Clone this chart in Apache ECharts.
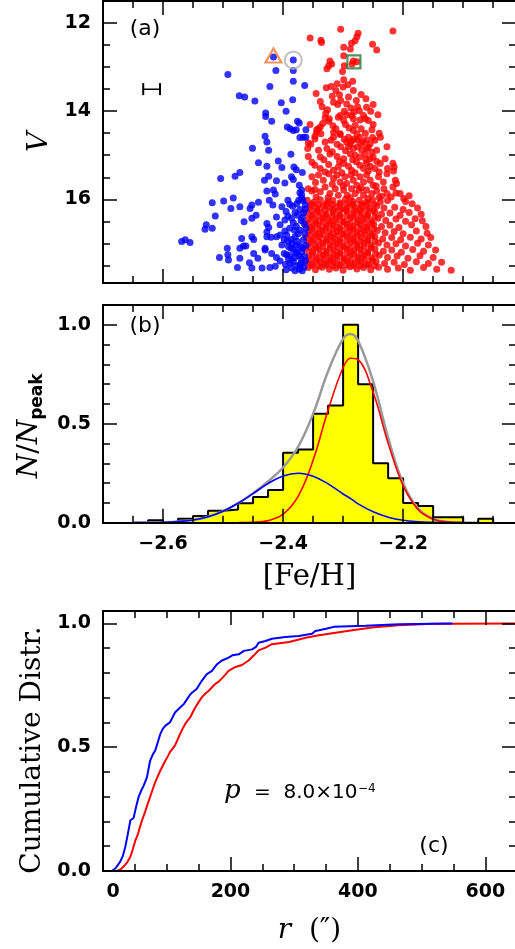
<!DOCTYPE html>
<html lang="en">
<head>
<meta charset="UTF-8">
<title>Fe/H distribution</title>
<style>html,body{margin:0;padding:0;background:#fff}#main{width:515px;height:949px}</style>
</head>
<body>
<div id="main"></div>
<script src="https://cdn.jsdelivr.net/npm/echarts@6/dist/echarts.min.js"></script>
<script>
// (a) metal-poor (blue) and metal-rich (red) stars: [Fe/H], V
var bluePts = [
  [-2.416,12.77],[-2.383,12.84],[-2.412,13.08],[-2.383,13.08],[-2.492,13.17],[-2.383,13.32],[-2.422,13.44],[-2.364,13.42],
  [-2.473,13.65],[-2.464,13.68],[-2.447,13.77],[-2.384,13.74],[-2.403,13.81],[-2.395,14.00],[-2.429,14.04],[-2.429,14.12],
  [-2.419,14.23],[-2.376,14.23],[-2.373,14.27],[-2.393,14.36],[-2.388,14.40],[-2.383,14.44],[-2.378,14.42],[-2.362,14.42],
  [-2.430,14.57],[-2.427,14.70],[-2.372,14.60],[-2.366,14.59],[-2.362,14.59],[-2.451,14.84],[-2.424,14.89],[-2.387,14.98],
  [-2.441,15.17],[-2.408,15.13],[-2.427,15.25],[-2.402,15.28],[-2.382,15.27],[-2.378,15.33],[-2.368,15.39],[-2.472,15.39],
  [-2.480,15.48],[-2.504,15.53],[-2.431,15.57],[-2.424,15.48],[-2.411,15.58],[-2.397,15.63],[-2.386,15.49],[-2.383,15.55],
  [-2.373,15.68],[-2.369,15.79],[-2.427,15.81],[-2.416,15.79],[-2.413,15.88],[-2.372,15.85],[-2.369,15.90],
  [-2.518,16.08],[-2.499,16.04],[-2.483,15.97],[-2.487,16.21],[-2.472,16.17],[-2.455,16.21],[-2.452,16.13],[-2.441,16.07],
  [-2.423,16.02],[-2.417,16.13],[-2.402,16.17],[-2.389,16.11],[-2.384,16.16],[-2.377,16.10],[-2.372,16.23],[-2.367,16.03],
  [-2.363,16.13],[-2.369,15.98],[-2.366,16.31],[-2.380,16.30],[-2.395,16.28],
  [-2.513,16.38],[-2.528,16.58],[-2.530,16.68],[-2.518,16.66],[-2.465,16.51],[-2.452,16.43],[-2.445,16.36],[-2.427,16.55],
  [-2.424,16.64],[-2.411,16.40],[-2.397,16.47],[-2.386,16.43],[-2.383,16.53],[-2.378,16.61],[-2.372,16.70],[-2.365,16.55],
  [-2.368,16.42],[-2.392,16.38],[-2.405,16.58],[-2.389,16.66],
  [-2.569,16.96],[-2.563,16.92],[-2.555,16.98],[-2.469,16.89],[-2.466,17.06],[-2.452,16.85],[-2.449,16.91],[-2.427,16.85],
  [-2.430,17.11],[-2.420,16.86],[-2.427,16.74],[-2.405,16.81],[-2.398,16.91],[-2.394,16.81],[-2.386,16.91],[-2.380,16.85],
  [-2.376,16.96],[-2.372,17.06],[-2.366,16.92],[-2.364,16.78],[-2.411,16.85],[-2.402,17.04],[-2.387,17.11],[-2.377,17.19],
  [-2.369,17.19],
  [-2.493,17.11],[-2.492,17.26],[-2.491,17.38],[-2.506,17.32],[-2.472,17.11],[-2.462,17.06],[-2.449,17.23],[-2.430,17.15],
  [-2.419,17.23],[-2.398,17.23],[-2.391,17.07],[-2.388,17.28],[-2.383,17.14],[-2.374,17.28],[-2.364,17.30],[-2.476,17.55],
  [-2.472,17.34],[-2.456,17.44],[-2.452,17.56],[-2.442,17.34],[-2.435,17.56],[-2.422,17.55],[-2.411,17.32],[-2.413,17.52],
  [-2.394,17.26],[-2.391,17.36],[-2.383,17.41],[-2.377,17.51],[-2.373,17.59],[-2.369,17.45],[-2.365,17.54],[-2.380,17.62],
  [-2.368,17.62],[-2.386,17.56],[-2.396,17.48],[-2.405,17.40],[-2.363,17.40],[-2.370,17.35],[-2.378,17.22],[-2.385,17.00],
  [-2.362,17.05],[-2.362,16.65],
  [-2.376,16.36],[-2.370,16.48],[-2.381,16.70],[-2.375,16.78],[-2.367,17.10],[-2.381,17.32],[-2.372,17.48],[-2.388,17.45],
  [-2.392,16.95],[-2.397,16.72],[-2.374,16.02],[-2.392,16.02],[-2.363,16.22],[-2.378,17.04],[-2.395,17.60]
];

var redPts = [
  [-2.355,12.34],[-2.337,12.39],[-2.336,12.44],[-2.304,12.14],[-2.275,12.23],[-2.277,12.31],[-2.280,12.40],[-2.286,12.46],
  [-2.299,12.55],[-2.288,12.59],[-2.251,12.48],[-2.244,12.61],[-2.217,12.18],[-2.299,12.74],[-2.322,12.86],[-2.324,12.97],
  [-2.327,13.04],[-2.319,12.93],[-2.298,12.97],[-2.283,12.86],[-2.277,12.88],[-2.285,12.93],[-2.301,13.10],[-2.299,13.29],
  [-2.284,13.32],[-2.328,13.47],[-2.320,13.44],[-2.312,13.53],[-2.306,13.63],[-2.283,13.53],[-2.291,13.68],[-2.338,13.78],
  [-2.316,13.80],[-2.309,13.85],[-2.304,13.76],[-2.294,13.84],[-2.287,13.93],[-2.278,13.76],[-2.276,13.90],[-2.273,13.99],
  [-2.261,13.91],[-2.326,13.97],[-2.329,14.05],[-2.305,14.10],[-2.294,14.08],[-2.286,14.10],[-2.266,14.10],[-2.242,14.08],
  [-2.323,14.17],[-2.324,14.23],[-2.308,14.14],[-2.299,14.21],[-2.283,14.17],[-2.280,14.32],[-2.272,14.20],[-2.263,14.17],
  [-2.258,14.21],[-2.341,14.40],[-2.344,14.48],[-2.347,14.57],[-2.316,14.48],[-2.305,14.53],[-2.283,14.44],[-2.277,14.51],
  [-2.263,14.50],[-2.252,14.42],[-2.310,13.38],[-2.292,13.40],[-2.270,13.62],[-2.318,13.66],[-2.335,13.90],[-2.298,14.00],
  [-2.282,14.02],[-2.254,14.00],[-2.317,14.33],[-2.296,14.30],[-2.334,14.28],[-2.250,14.30],
  [-2.345,13.60],[-2.300,13.45],[-2.262,13.72],[-2.250,13.85],[-2.330,14.15],[-2.312,14.40],[-2.290,14.38],[-2.270,14.40],
  [-2.240,14.50],[-2.355,14.30],
  [-2.358,14.72],[-2.359,14.85],[-2.354,14.75],[-2.347,14.63],[-2.344,14.42],[-2.338,14.36],[-2.337,14.51],[-2.330,14.70],
  [-2.327,14.85],[-2.316,14.59],[-2.310,14.75],[-2.305,14.51],[-2.304,14.81],[-2.294,14.70],[-2.291,14.59],[-2.288,14.74],
  [-2.282,14.63],[-2.277,14.65],[-2.272,14.60],[-2.266,14.70],[-2.261,14.65],[-2.255,14.74],[-2.251,14.60],[-2.247,14.66],
  [-2.238,14.59],[-2.291,14.81],[-2.283,14.85],[-2.276,14.81],[-2.269,14.89],[-2.261,14.85],[-2.252,14.93],[-2.244,14.89],
  [-2.227,14.81],[-2.288,14.97],[-2.280,15.00],[-2.272,15.04],[-2.263,14.98],[-2.255,15.08],[-2.250,15.04],[-2.358,15.03],
  [-2.341,14.89],[-2.338,15.04],[-2.322,14.97],[-2.310,15.03],[-2.299,15.08],[-2.347,15.23],[-2.338,15.30],[-2.324,15.21],
  [-2.316,15.34],[-2.308,15.27],[-2.299,15.19],[-2.291,15.25],[-2.286,15.34],[-2.278,15.15],[-2.272,15.23],[-2.266,15.30],
  [-2.261,15.18],[-2.255,15.25],[-2.247,15.30],[-2.238,15.19],[-2.217,15.18],[-2.215,15.27],[-2.216,15.36],[-2.352,15.49],
  [-2.341,15.45],[-2.333,15.57],[-2.324,15.42],[-2.316,15.53],[-2.310,15.45],[-2.305,15.61],[-2.297,15.49],[-2.294,15.64],
  [-2.287,15.45],[-2.283,15.57],[-2.277,15.68],[-2.272,15.49],[-2.266,15.61],[-2.261,15.45],[-2.255,15.57],[-2.250,15.68],
  [-2.241,15.49],[-2.233,15.61],[-2.227,15.42],[-2.213,15.57],[-2.211,15.64],[-2.217,15.72],[-2.358,15.76],[-2.352,15.81],
  [-2.347,15.78],[-2.338,15.83],[-2.330,15.72],[-2.322,15.87],[-2.313,15.76],[-2.308,15.91],[-2.299,15.79],[-2.293,15.91],
  [-2.286,15.76],[-2.280,15.87],[-2.273,15.79],[-2.266,15.91],[-2.261,15.79],[-2.252,15.87],[-2.244,15.81],[-2.236,15.93],
  [-2.227,15.87],[-2.205,15.87],[-2.199,15.98],
  [-2.320,14.66],[-2.298,14.64],[-2.286,14.68],[-2.270,14.74],[-2.258,14.82],[-2.296,14.90],[-2.318,14.92],[-2.332,15.10],
  [-2.306,15.14],[-2.284,15.10],[-2.262,15.10],[-2.244,15.14],[-2.230,15.08],[-2.352,15.16],[-2.330,15.38],[-2.302,15.40],
  [-2.280,15.40],[-2.258,15.36],[-2.240,15.38],[-2.226,15.30],[-2.346,15.62],[-2.318,15.66],[-2.300,15.70],[-2.270,15.74],
  [-2.245,15.70],[-2.232,15.76],[-2.220,15.95],[-2.345,15.95],[-2.325,15.96],[-2.288,15.97],[-2.258,15.98],[-2.240,15.96],
  [-2.212,15.86],[-2.190,15.92],
  [-2.360,16.02],[-2.349,16.07],[-2.338,16.01],[-2.326,16.06],[-2.317,16.03],[-2.305,16.08],[-2.296,16.00],[-2.284,16.05],
  [-2.273,16.02],[-2.262,16.07],[-2.251,16.01],[-2.238,16.06],[-2.226,16.03],[-2.196,16.05],[-2.185,16.10],
  [-2.355,16.16],[-2.344,16.21],[-2.333,16.15],[-2.322,16.20],[-2.311,16.17],[-2.300,16.22],[-2.289,16.14],[-2.279,16.19],
  [-2.268,16.16],[-2.256,16.21],[-2.244,16.15],[-2.232,16.20],[-2.214,16.18],[-2.200,16.23],[-2.176,16.20],
  [-2.361,16.30],[-2.350,16.35],[-2.339,16.29],[-2.328,16.34],[-2.316,16.31],[-2.305,16.36],[-2.293,16.28],[-2.282,16.33],
  [-2.271,16.30],[-2.259,16.35],[-2.247,16.29],[-2.236,16.34],[-2.222,16.31],[-2.205,16.36],[-2.190,16.30],[-2.170,16.34],
  [-2.358,16.44],[-2.346,16.49],[-2.334,16.43],[-2.323,16.48],[-2.312,16.45],[-2.300,16.50],[-2.288,16.42],[-2.276,16.47],
  [-2.266,16.44],[-2.254,16.49],[-2.242,16.43],[-2.229,16.48],[-2.212,16.45],[-2.196,16.50],[-2.180,16.44],[-2.168,16.49],
  [-2.362,16.58],[-2.351,16.63],[-2.340,16.57],[-2.328,16.62],[-2.317,16.59],[-2.306,16.64],[-2.294,16.56],[-2.283,16.61],
  [-2.271,16.58],[-2.260,16.63],[-2.249,16.57],[-2.236,16.62],[-2.222,16.59],[-2.207,16.64],[-2.186,16.58],[-2.162,16.62],
  [-2.357,16.72],[-2.346,16.77],[-2.335,16.71],[-2.323,16.76],[-2.311,16.73],[-2.300,16.78],[-2.289,16.70],[-2.277,16.75],
  [-2.266,16.72],[-2.255,16.77],[-2.243,16.71],[-2.230,16.76],[-2.215,16.73],[-2.200,16.78],[-2.178,16.72],[-2.160,16.77],
  [-2.361,16.86],[-2.350,16.91],[-2.339,16.85],[-2.327,16.90],[-2.316,16.87],[-2.305,16.92],[-2.293,16.84],[-2.282,16.89],
  [-2.270,16.86],[-2.259,16.91],[-2.247,16.85],[-2.234,16.90],[-2.219,16.87],[-2.204,16.92],[-2.188,16.86],[-2.170,16.90],
  [-2.154,16.87],
  [-2.358,17.00],[-2.346,17.05],[-2.334,16.99],[-2.322,17.04],[-2.311,17.01],[-2.300,17.06],[-2.288,16.98],[-2.277,17.03],
  [-2.265,17.00],[-2.254,17.05],[-2.241,16.99],[-2.227,17.04],[-2.212,17.01],[-2.196,17.06],[-2.176,17.00],[-2.158,17.04],
  [-2.362,17.14],[-2.351,17.19],[-2.340,17.13],[-2.328,17.18],[-2.316,17.15],[-2.305,17.20],[-2.294,17.12],[-2.282,17.17],
  [-2.271,17.14],[-2.259,17.19],[-2.247,17.13],[-2.233,17.18],[-2.219,17.15],[-2.203,17.20],[-2.184,17.14],[-2.166,17.18],
  [-2.146,17.15],
  [-2.357,17.28],[-2.345,17.33],[-2.333,17.27],[-2.322,17.32],[-2.311,17.29],[-2.299,17.34],[-2.288,17.26],[-2.276,17.31],
  [-2.265,17.28],[-2.253,17.33],[-2.240,17.27],[-2.226,17.32],[-2.210,17.29],[-2.192,17.34],[-2.172,17.28],[-2.150,17.32],
  [-2.361,17.42],[-2.350,17.47],[-2.338,17.41],[-2.327,17.46],[-2.316,17.43],[-2.304,17.48],[-2.293,17.40],[-2.281,17.45],
  [-2.270,17.42],[-2.258,17.47],[-2.245,17.41],[-2.231,17.46],[-2.215,17.43],[-2.198,17.48],[-2.178,17.42],[-2.158,17.46],
  [-2.136,17.43],
  [-2.358,17.55],[-2.346,17.60],[-2.335,17.54],[-2.323,17.59],[-2.312,17.56],[-2.300,17.61],[-2.289,17.53],[-2.277,17.58],
  [-2.266,17.55],[-2.254,17.60],[-2.241,17.54],[-2.226,17.59],[-2.208,17.56],[-2.188,17.61],[-2.166,17.55],[-2.144,17.59],
  [-2.120,17.61],
  // dense core, in between the rows above
  [-2.352,16.11],[-2.341,16.12],[-2.328,16.10],[-2.318,16.12],[-2.305,16.11],[-2.294,16.10],[-2.283,16.12],[-2.270,16.11],[-2.259,16.10],[-2.248,16.12],
  [-2.354,16.25],[-2.343,16.26],[-2.330,16.24],[-2.317,16.26],[-2.306,16.25],[-2.295,16.24],[-2.282,16.26],[-2.272,16.25],[-2.261,16.24],[-2.250,16.26],
  [-2.352,16.39],[-2.340,16.40],[-2.329,16.38],[-2.318,16.40],[-2.306,16.39],[-2.294,16.38],[-2.283,16.40],[-2.271,16.39],[-2.260,16.38],[-2.247,16.40],
  [-2.356,16.53],[-2.345,16.54],[-2.333,16.52],[-2.322,16.54],[-2.311,16.53],[-2.299,16.52],[-2.288,16.54],[-2.276,16.53],[-2.264,16.52],[-2.252,16.54],
  [-2.352,16.67],[-2.340,16.68],[-2.329,16.66],[-2.317,16.68],[-2.305,16.67],[-2.294,16.66],[-2.283,16.68],[-2.271,16.67],[-2.260,16.66],[-2.249,16.68],
  [-2.355,16.81],[-2.344,16.82],[-2.333,16.80],[-2.321,16.82],[-2.310,16.81],[-2.299,16.80],[-2.287,16.82],[-2.276,16.81],[-2.264,16.80],[-2.252,16.82],
  [-2.352,16.95],[-2.340,16.96],[-2.328,16.94],[-2.317,16.96],[-2.306,16.95],[-2.294,16.94],[-2.282,16.96],[-2.271,16.95],[-2.259,16.94],[-2.247,16.96],
  [-2.356,17.09],[-2.345,17.10],[-2.334,17.08],[-2.322,17.10],[-2.310,17.09],[-2.299,17.08],[-2.288,17.10],[-2.276,17.09],[-2.265,17.08],[-2.253,17.10],
  [-2.351,17.23],[-2.339,17.24],[-2.328,17.22],[-2.316,17.24],[-2.305,17.23],[-2.293,17.22],[-2.282,17.24],[-2.270,17.23],[-2.259,17.22],[-2.246,17.24],
  [-2.355,17.37],[-2.344,17.38],[-2.332,17.36],[-2.321,17.38],[-2.310,17.37],[-2.298,17.36],[-2.287,17.38],[-2.275,17.37],[-2.264,17.36],[-2.251,17.38],
  [-2.352,17.50],[-2.340,17.51],[-2.329,17.49],[-2.317,17.51],[-2.306,17.50],[-2.294,17.49],[-2.283,17.51],[-2.271,17.50],[-2.260,17.49],[-2.248,17.51]
];

// highlighted stars and the typical error bar
var starTri = [-2.416, 12.77];
var starCirc = [-2.383, 12.84];
var starSq = [-2.282, 12.88];
var errBar = {feh: -2.619, v: 13.5, err: 0.014};

// (b) histogram, bin width 0.025
var histLeft = [-2.625,-2.6,-2.575,-2.55,-2.525,-2.5,-2.475,-2.45,-2.425,-2.4,-2.375,-2.35,-2.325,-2.3,-2.275,-2.25,-2.225,-2.2,-2.175,-2.15,-2.125,-2.1,-2.075];
var histVal = [0.012,0,0.02,0.034,0.06,0.067,0.098,0.13,0.165,0.354,0.37,0.55,0.592,1.0,0.70,0.30,0.224,0.10,0.085,0.027,0.027,0,0.02];
var binW = 0.025;

// fitted gaussians
var fitX    = [-2.65,-2.625,-2.6,-2.575,-2.55,-2.525,-2.5,-2.475,-2.45,-2.425,-2.4,-2.375,-2.35,-2.325,-2.3,-2.2875,-2.275,-2.25,-2.225,-2.2,-2.175,-2.15,-2.125,-2.1];
var fitBlue = [0.0002,0.0007,0.0022,0.006,0.014,0.030,0.058,0.098,0.147,0.198,0.236,0.25,0.235,0.196,0.145,0.122,0.095,0.055,0.028,0.012,0.005,0.0018,0.0005,0.0001];
var fitRed  = [null,null,null,null,null,null,null,0.0003,0.002,0.0105,0.043,0.133,0.315,0.569,0.784,0.831,0.824,0.659,0.402,0.187,0.066,0.018,0.0037,0.0006];
var fitSum  = [0.0002,0.0007,0.0022,0.006,0.014,0.030,0.058,0.0983,0.149,0.2085,0.279,0.383,0.550,0.765,0.929,0.953,0.919,0.714,0.430,0.199,0.071,0.0198,0.0042,0.0007];

// (c) cumulative radial distributions: r (arcsec), fraction
var cdfBlue = [[14,0],[20,0.012],[27,0.038],[31,0.06],[35,0.098],[39,0.15],[43,0.205],[48,0.214],[52,0.26],[56,0.30],[60,0.325],
  [64,0.346],[69,0.379],[72,0.42],[74,0.446],[78,0.47],[82,0.487],[86,0.52],[90,0.554],[94,0.575],[98,0.587],[105,0.60],[109,0.62],
  [113,0.64],[117,0.65],[121,0.66],[127,0.675],[132,0.694],[136,0.71],[140,0.721],[147,0.735],[151,0.752],[155,0.768],[159,0.782],
  [163,0.795],[171,0.808],[175,0.822],[179,0.835],[186,0.849],[197,0.862],[203,0.871],[213,0.875],[221,0.889],[234,0.895],[240,0.905],
  [244,0.922],[255,0.929],[265,0.938],[286,0.945],[307,0.949],[328,0.958],[333,0.969],[339,0.972],[350,0.978],[362,0.986],[412,0.99],
  [464,0.996],[548,1.0]];
var cdfRed = [[22,0],[28,0.008],[32,0.017],[38,0.035],[43,0.058],[47,0.09],[51,0.125],[55,0.15],[58,0.178],[62,0.21],[66,0.239],
  [70,0.27],[74,0.30],[78,0.33],[82,0.359],[86,0.383],[90,0.406],[94,0.426],[98,0.446],[102,0.465],[105,0.48],[109,0.493],[113,0.507],
  [117,0.53],[121,0.554],[125,0.575],[129,0.594],[133,0.608],[137,0.621],[141,0.642],[145,0.661],[150,0.682],[155,0.701],[160,0.715],
  [166,0.728],[171,0.742],[176,0.755],[182,0.766],[187,0.779],[192,0.793],[197,0.808],[203,0.817],[208,0.824],[218,0.832],[229,0.851],
  [236,0.869],[244,0.891],[255,0.902],[265,0.916],[292,0.925],[318,0.942],[339,0.952],[365,0.962],[391,0.972],[422,0.983],[464,0.992],
  [517,0.999],[548,0.999],[648,1.0]];

var myChart = echarts.init(document.getElementById('main'));

var SANS = 'DejaVu Sans', SERIF = 'DejaVu Serif';
var tickFont = {color: '#000', fontFamily: SANS, fontWeight: 'bold', fontSize: 19, margin: 12};
var minus = function (v) { return String(v).replace('-', '\u2212'); };

var xAxes = [], yAxes = [];
// 4 axes per side pair: main (long ticks, labels), minor ticks, opposite long, opposite minor
function addAxes(list, g, pos, opp, r, main) {
  function one(p, vals, len, line) {
    return {
      type: 'value', gridIndex: g, position: p, min: r.min, max: r.max, inverse: !!r.inverse,
      axisLine: {show: line, onZero: false, lineStyle: {color: '#000', width: 2}},
      axisTick: {show: true, inside: true, length: len, customValues: vals, lineStyle: {color: '#000', width: 1.5}},
      axisLabel: {show: false}, splitLine: {show: false}, z: 10
    };
  }
  var first = Object.assign(one(pos, r.major, 14, true), main || {});
  list.push(first, one(pos, r.minor, 7, false), one(opp, r.major, 14, true), one(opp, r.minor, 7, false));
}

var fehR = {min: -2.7, max: -2.012, major: [-2.6, -2.4, -2.2], minor: [-2.65, -2.55, -2.5, -2.45, -2.35, -2.3, -2.25, -2.15, -2.1, -2.05]};
var fracMinor = [0.1, 0.2, 0.3, 0.4, 0.6, 0.7, 0.8, 0.9];

// panel a
addAxes(xAxes, 0, 'bottom', 'top', fehR);
addAxes(yAxes, 0, 'left', 'right', {min: 11.5, max: 17.9, inverse: true, major: [12, 14, 16], minor: [12.5, 13, 13.5, 14.5, 15, 15.5, 16.5, 17, 17.5]}, {
  axisLabel: Object.assign({show: true, customValues: [12, 14, 16]}, tickFont),
  name: 'V', nameLocation: 'middle', nameRotate: 90, nameGap: 49,
  nameTextStyle: {fontFamily: SERIF, fontStyle: 'italic', fontSize: 28, color: '#000'}
});
// panel b
addAxes(xAxes, 1, 'bottom', 'top', fehR, {
  axisLabel: Object.assign({show: true, customValues: [-2.6, -2.4, -2.2], formatter: function (v) { return minus(v.toFixed(1)); }}, tickFont),
  name: '[Fe/H]', nameLocation: 'middle', nameGap: 40,
  nameTextStyle: {fontFamily: SERIF, fontSize: 29, color: '#000'}
});
addAxes(yAxes, 1, 'left', 'right', {min: 0, max: 1.1, major: [0.5, 1.0], minor: fracMinor}, {
  axisLabel: Object.assign({show: true, customValues: [0, 0.5, 1.0], formatter: function (v) { return v.toFixed(1); }}, tickFont),
  name: '{n|N}{s|/}{n|N}{sub|peak}', nameLocation: 'middle', nameRotate: 90, nameGap: 56,
  nameTextStyle: {color: '#000', padding: [0, 24, 0, 0], rich: {
    n: {fontFamily: SERIF, fontStyle: 'italic', fontSize: 28, lineHeight: 34, verticalAlign: 'middle', color: '#000'},
    s: {fontFamily: SERIF, fontSize: 28, lineHeight: 34, verticalAlign: 'middle', color: '#000'},
    sub: {fontFamily: SANS, fontWeight: 'bold', fontSize: 17, lineHeight: 17, verticalAlign: 'bottom', color: '#000'}
  }}
});
// panel c
addAxes(xAxes, 2, 'bottom', 'top', {min: 0, max: 648, major: [200, 400, 600], minor: [50, 100, 150, 250, 300, 350, 450, 500, 550]}, {
  axisLabel: Object.assign({show: true, customValues: [0, 200, 400, 600],
    formatter: function (v) { return v === 0 ? '{z|0}' : String(v); },
    rich: {z: {padding: [0, 0, 0, 20], fontFamily: SANS, fontWeight: 'bold', fontSize: 19, color: '#000'}}}, tickFont),
  name: '{i|r}  (\u2033)', nameLocation: 'middle', nameGap: 46,
  nameTextStyle: {fontFamily: SERIF, fontSize: 28, color: '#000', rich: {
    i: {fontFamily: SERIF, fontStyle: 'italic', fontSize: 28, color: '#000'}
  }}
});
addAxes(yAxes, 2, 'left', 'right', {min: 0, max: 1.05, major: [0.5, 1.0], minor: fracMinor}, {
  axisLabel: Object.assign({show: true, customValues: [0, 0.5, 1.0], formatter: function (v) { return v.toFixed(1); }}, tickFont),
  name: 'Cumulative Distr.', nameLocation: 'middle', nameRotate: 90, nameGap: 55,
  nameTextStyle: {fontFamily: SERIF, fontSize: 28, color: '#000', padding: [0, 18, 0, 0]}
});

var histData = [[histLeft[0], 0]].concat(histLeft.map(function (x, i) { return [x, histVal[i]]; }));
histData.push([histLeft[histLeft.length - 1] + binW, 0]);

function zip(xs, ys) { return xs.map(function (x, i) { return [x, ys[i]]; }); }
function hollow(sym, size, color, pt, off) {
  return {type: 'scatter', xAxisIndex: 0, yAxisIndex: 0, symbol: sym, symbolSize: size, symbolOffset: off || [0, 0],
    itemStyle: {color: 'rgba(0,0,0,0)', borderColor: color, borderWidth: 2.2}, data: [pt], z: 6, silent: true};
}
function txt(x, y, s, size, fam, style, align) {
  return {type: 'text', x: x, y: y, style: {text: s, fontSize: size, fontFamily: fam, fontStyle: style || 'normal', fill: '#000',
    align: align || 'center', verticalAlign: 'middle', textAlign: align || 'center', textVerticalAlign: 'middle'}};
}

var option = {
  animation: false,
  backgroundColor: '#fff',
  grid: [
    {left: 103, top: 1, width: 413, height: 282, outerBoundsMode: 'none', containLabel: false},
    {left: 103, top: 305, width: 413, height: 217.7, outerBoundsMode: 'none', containLabel: false},
    {left: 103, top: 611, width: 413, height: 260, outerBoundsMode: 'none', containLabel: false}
  ],
  xAxis: xAxes,
  yAxis: yAxes,
  graphic: [
    txt(145, 29, '(a)', 22, SANS),
    txt(145, 326, '(b)', 22, SANS),
    txt(434, 846, '(c)', 22, SANS),
    txt(224, 791, 'p', 26, SERIF, 'italic', 'left'),
    txt(254, 793, '=  8.0\u00d710', 20, SANS, 'normal', 'left'),
    txt(358, 789, '\u22124', 12, SANS, 'normal', 'left')
  ],
  series: [
    {type: 'scatter', xAxisIndex: 0, yAxisIndex: 0, symbol: 'circle', symbolSize: 7, itemStyle: {color: '#ff0000'}, data: redPts, silent: true},
    {type: 'scatter', xAxisIndex: 0, yAxisIndex: 0, symbol: 'circle', symbolSize: 7, itemStyle: {color: '#0000ff'}, data: bluePts, silent: true},
    hollow('triangle', [16, 14], '#f07b35', starTri, [0, -1.5]),
    hollow('circle', 17, '#b4b4b4', starCirc),
    hollow('rect', 13, '#1f7a3c', starSq),
    {type: 'line', xAxisIndex: 0, yAxisIndex: 0, symbol: 'rect', symbolSize: [2, 12], showSymbol: true,
      itemStyle: {color: '#000'}, lineStyle: {color: '#000', width: 1.5},
      data: [[errBar.feh - errBar.err, errBar.v], [errBar.feh + errBar.err, errBar.v]], silent: true},

    {type: 'line', xAxisIndex: 4, yAxisIndex: 4, step: 'end', symbol: 'none', data: histData,
      lineStyle: {color: '#000', width: 2}, areaStyle: {color: '#ffff00', opacity: 1}, silent: true, z: 2},
    {type: 'line', xAxisIndex: 4, yAxisIndex: 4, smooth: 0.4, symbol: 'none', data: zip(fitX, fitSum), lineStyle: {color: '#9a9a9a', width: 2.5}, z: 3, silent: true},
    {type: 'line', xAxisIndex: 4, yAxisIndex: 4, smooth: 0.4, symbol: 'none', connectNulls: false, data: zip(fitX, fitRed), lineStyle: {color: '#ff0000', width: 1.6}, z: 4, silent: true},
    {type: 'line', xAxisIndex: 4, yAxisIndex: 4, smooth: 0.4, symbol: 'none', data: zip(fitX, fitBlue), lineStyle: {color: '#0000ff', width: 1.6}, z: 5, silent: true},

    {type: 'line', xAxisIndex: 8, yAxisIndex: 8, symbol: 'none', data: cdfRed, lineStyle: {color: '#ff0000', width: 2}, silent: true},
    {type: 'line', xAxisIndex: 8, yAxisIndex: 8, symbol: 'none', data: cdfBlue, lineStyle: {color: '#0000ff', width: 2}, silent: true}
  ]
};

myChart.setOption(option);
</script>
</body>
</html>
